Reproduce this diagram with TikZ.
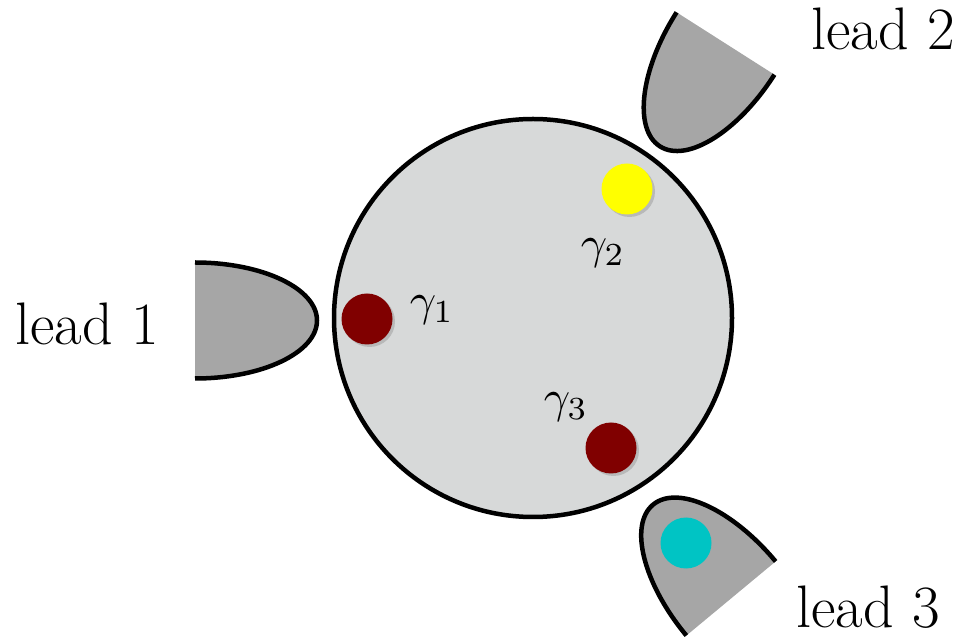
\documentclass[tikz,border=0pt]{standalone}
\usepackage{graphicx}
\usepackage{tikz}
\usetikzlibrary{shadows}
\definecolor{GrisPunto}{RGB}{215,217,217}
\definecolor{GrisLead}{RGB}{166,166,166}
\definecolor{Granate}{RGB}{128,0,0}
\definecolor{Amarillo}{RGB}{255,255,0}
\definecolor{Cian}{RGB}{0,196,196}
\tikzset{
  rim/.style={draw=black, line width=4.5pt},
  cupfill/.style={fill=GrisLead},
  dot/.style={circle, minimum size=51pt, inner sep=0pt},
  shadowdot/.style={dot, drop shadow={shadow xshift=2.5pt, shadow yshift=-2.5pt, opacity=0.35}},
  leadlabel/.style={anchor=base, font=\fontsize{60}{66}\selectfont},
}
% etiqueta gamma escalada
\newcommand{\gam}[1]{\scalebox{4.6}{$\gamma_{#1}$}}
% lead: #1 = posicion del borde abierto, #2 = angulo
\newcommand{\leadcup}[2]{%
  \begin{scope}[shift={#1}, rotate=#2]
    \fill[cupfill] (0,58) arc[start angle=90, end angle=-90, x radius=122pt, y radius=58pt] -- cycle;
    \draw[rim] (0,58) arc[start angle=90, end angle=-90, x radius=122pt, y radius=58pt];
  \end{scope}}
\begin{document}
\begin{tikzpicture}[x=1pt, y=1pt]
  \useasboundingbox (0,0) rectangle (963,637);
  % punto cuantico
  \draw[rim, fill=GrisPunto] (533,319) circle[radius=199pt];
  \node[shadowdot, fill=Granate] (d1) at (367,318) {};
  \node[shadowdot, fill=Amarillo] (d2) at (627,448) {};
  \node[shadowdot, fill=Granate] (d3) at (611,189) {};
  \node (g1) at (432,327) {\gam{1}};
  \node (g2) at (603,384) {\gam{2}};
  \node (g3) at (566,230) {\gam{3}};
  % leads
  \leadcup{(195,316.5)}{0}
  \leadcup{(725.5,593.5)}{237.5}
  \leadcup{(731,38.5)}{129.7}
  \node[dot, fill=Cian] (d4) at (686,94) {};
  \node[leadlabel] (l1) at (87,292) {lead 1};
  \node[leadlabel] (l2) at (883,587) {lead 2};
  \node[leadlabel] (l3) at (868,10) {lead 3};
\end{tikzpicture}
\end{document}
